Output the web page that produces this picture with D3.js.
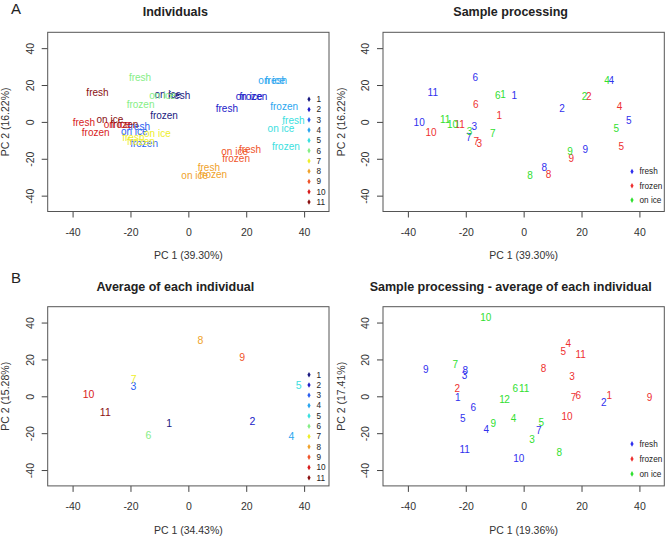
<!DOCTYPE html>
<html>
<head>
<meta charset="utf-8">
<script src="https://cdn.jsdelivr.net/npm/d3@7"></script>
<style>
  html, body { margin: 0; padding: 0; background: #fff; }
  svg { display: block; font-family: 'Liberation Sans', Arial, sans-serif; }
</style>
</head>
<body>
<svg id="chart" width="666" height="536"></svg>
<script>
const individuals = ['1', '2', '3', '4', '5', '6', '7', '8', '9', '10', '11'];
const processing = ['fresh', 'frozen', 'on ice'];
const axisTicks = [-40, -20, 0, 20, 40];

// A: PCA of every sample (individual 1..11 in order)
const freshPc1 = [-3.2, 13.3, -17.1, 30.3, 36.3, -16.7, -19.0, 7.1, 21.3, -36.1, -31.4];
const freshPc2 = [14.5, 7.5, -2.4, 22.7, 0.5, 24.3, -8.2, -24.8, -14.7, -0.3, 16.2];
const frozenPc1 = [-8.4, 22.5, -15.3, 33.1, 33.7, -16.5, -16.4, 8.6, 16.5, -32.0, -22.1];
const frozenPc2 = [3.5, 14.0, -11.8, 8.4, -13.3, 9.3, -10.9, -28.3, -19.6, -5.5, -1.5];
const onIcePc1 = [-7.1, 21.0, -18.7, 28.8, 32.0, -8.9, -10.7, 2.2, 16.0, -24.6, -27.1];
const onIcePc2 = [14.9, 14.0, -5.1, 22.5, -3.5, 14.5, -6.4, -29.0, -16.0, -1.5, 1.2];

// B (left): average of each individual
const averagePc1 = [-6.6, 22.1, -19.0, 35.6, 38.1, -13.8, -18.9, 4.2, 18.6, -34.5, -28.7];
const averagePc2 = [-14.7, -13.8, 5.4, -21.5, 6.2, -21.4, 9.2, 30.2, 21.0, 1.3, -8.7];

// B (right): processing after removing each individual's average
const centredFreshPc1 = [-22.8, 27.7, -20.4, -12.9, -21.0, -17.4, 5.2, -20.2, -33.8, -1.7, -20.4];
const centredFreshPc2 = [-0.7, -3.4, 11.4, -17.9, -11.8, -6.2, -18.3, 14.1, 14.3, -33.7, -29.1];
const centredFrozenPc1 = [29.6, -22.9, 16.7, 15.4, 13.7, 18.9, 17.2, 6.9, 43.5, 15.0, 19.7];
const centredFrozenPc2 = [0.2, 4.2, 10.5, 28.8, 24.3, 0.2, -0.7, 15.2, -0.7, -10.7, 22.8];
const centredOnIcePc1 = [-7.5, -5.7, 2.9, -3.5, 6.1, -2.9, -23.6, 12.3, -10.5, -13.1, 0.2];
const centredOnIcePc2 = [-1.8, -1.8, -23.3, -12.3, -14.1, 4.3, 17.4, -30.6, -15.0, 42.7, 4.3];

(function () {
  const IND_COLORS = ['#1a1a80', '#2020c8', '#2a5ff0', '#2aa6f0', '#3ae0e0', '#86ee86',
    '#eeee2a', '#f0a22a', '#f0552a', '#d81c1c', '#8a1010'];
  const PROC_COLORS = ['#3030ee', '#ee3030', '#30e030'];
  const TEXT = '#222';
  const AXIS = '#444';

  const LIMITS = [-48.6, 48.6];
  const PLOT_W = 281.3;
  const PLOT_H = 179.2;

  const svg = d3.select('#chart');

  function buildSamples(sets) {
    const out = [];
    sets.forEach((s, p) => {
      individuals.forEach((ind, i) => {
        out.push({ ind: i, proc: p, pc1: s[0][i], pc2: s[1][i] });
      });
    });
    return out;
  }

  const allSamples = buildSamples([
    [freshPc1, freshPc2], [frozenPc1, frozenPc2], [onIcePc1, onIcePc2],
  ]);
  const centredSamples = buildSamples([
    [centredFreshPc1, centredFreshPc2],
    [centredFrozenPc1, centredFrozenPc2],
    [centredOnIcePc1, centredOnIcePc2],
  ]);
  const averages = individuals.map((ind, i) => ({ ind: i, pc1: averagePc1[i], pc2: averagePc2[i] }));

  /** Marco, ejes y rótulos al estilo de plot() de R. */
  function drawFrame(cfg) {
    const x = d3.scaleLinear().domain(LIMITS).range([cfg.left, cfg.left + PLOT_W]);
    const y = d3.scaleLinear().domain(LIMITS).range([cfg.top + PLOT_H, cfg.top]);
    const g = svg.append('g');

    const ax = g.append('g')
      .attr('transform', `translate(0,${cfg.top + PLOT_H})`)
      .call(d3.axisBottom(x).tickValues(axisTicks).tickFormat(String)
        .tickSize(6).tickSizeOuter(0).tickPadding(11));
    ax.select('.domain').remove();
    ax.selectAll('line').attr('stroke', AXIS);
    ax.selectAll('text')
      .attr('font-size', 10.5).attr('fill', '#333')
      .attr('font-family', 'Liberation Sans, Arial, sans-serif');

    const ay = g.append('g')
      .attr('transform', `translate(${cfg.left},0)`)
      .call(d3.axisLeft(y).tickValues(axisTicks).tickFormat(String)
        .tickSize(6).tickSizeOuter(0));
    ay.select('.domain').remove();
    ay.selectAll('line').attr('stroke', AXIS);
    ay.selectAll('text')
      .attr('x', null).attr('y', null).attr('dy', '0.35em')
      .attr('text-anchor', 'middle')
      .attr('transform', 'translate(-17.7,0) rotate(-90)')
      .attr('font-size', 10.5).attr('fill', '#333')
      .attr('font-family', 'Liberation Sans, Arial, sans-serif');

    g.append('rect')
      .attr('x', cfg.left).attr('y', cfg.top)
      .attr('width', PLOT_W).attr('height', PLOT_H)
      .attr('fill', 'none').attr('stroke', '#555').attr('stroke-width', 1);

    g.append('text')
      .attr('x', cfg.left + PLOT_W / 2 - 13).attr('y', cfg.top - 20.5)
      .attr('dy', '0.35em').attr('text-anchor', 'middle')
      .attr('font-size', 12.5).attr('font-weight', 'bold').attr('fill', TEXT)
      .text(cfg.title);

    g.append('text')
      .attr('x', cfg.left + PLOT_W / 2).attr('y', cfg.top + PLOT_H + 44)
      .attr('dy', '0.35em').attr('text-anchor', 'middle')
      .attr('font-size', 10.5).attr('fill', '#333')
      .text(cfg.xLabel);

    g.append('text')
      .attr('transform', `translate(${cfg.left - 42},${cfg.top + PLOT_H / 2}) rotate(-90)`)
      .attr('dy', '0.35em').attr('text-anchor', 'middle')
      .attr('font-size', 10.5).attr('fill', '#333')
      .text(cfg.yLabel);

    return { x, y, g };
  }

  function drawLabels(frame, data, texto, color, size) {
    frame.g.append('g')
      .selectAll('text')
      .data(data)
      .join('text')
      .attr('x', (d) => frame.x(d.pc1))
      .attr('y', (d) => frame.y(d.pc2))
      .attr('dy', '0.35em')
      .attr('text-anchor', 'middle')
      .attr('font-size', size)
      .attr('fill', color)
      .text(texto);
  }

  function drawLegend(frame, names, colors, x0, y0, step) {
    const leg = frame.g.append('g');
    names.forEach((name, i) => {
      leg.append('path')
        .attr('d', d3.symbol(d3.symbolDiamond, 9)())
        .attr('transform', `translate(${x0},${y0 + i * step})`)
        .attr('fill', colors[i]);
      leg.append('text')
        .attr('x', x0 + 7.5).attr('y', y0 + i * step)
        .attr('dy', '0.35em')
        .attr('font-size', 8.2).attr('fill', TEXT)
        .text(name);
    });
  }

  const TOP = 32.3;
  const BOTTOM = 306.7;
  const LEFT = 47.7;
  const RIGHT = 383;

  // A: izquierda
  const a1 = drawFrame({ left: LEFT, top: TOP, title: 'Individuals',
    xLabel: 'PC 1 (39.30%)', yLabel: 'PC 2 (16.22%)' });
  drawLabels(a1, allSamples, (d) => processing[d.proc], (d) => IND_COLORS[d.ind], 10);
  drawLegend(a1, individuals, IND_COLORS, 309, TOP + 67, 10.27);

  // A: derecha
  const a2 = drawFrame({ left: RIGHT, top: TOP, title: 'Sample processing',
    xLabel: 'PC 1 (39.30%)', yLabel: 'PC 2 (16.22%)' });
  drawLabels(a2, allSamples, (d) => individuals[d.ind], (d) => PROC_COLORS[d.proc], 10);
  drawLegend(a2, processing, PROC_COLORS, 632, TOP + PLOT_H - 40, 14.3);

  // B: izquierda
  const b1 = drawFrame({ left: LEFT, top: BOTTOM, title: 'Average of each individual',
    xLabel: 'PC 1 (34.43%)', yLabel: 'PC 2 (15.28%)' });
  drawLabels(b1, averages, (d) => individuals[d.ind], (d) => IND_COLORS[d.ind], 10.5);
  drawLegend(b1, individuals, IND_COLORS, 309, BOTTOM + 68, 10.3);

  // B: derecha
  const b2 = drawFrame({ left: RIGHT, top: BOTTOM, title: 'Sample processing - average of each individual',
    xLabel: 'PC 1 (19.36%)', yLabel: 'PC 2 (17.41%)' });
  drawLabels(b2, centredSamples, (d) => individuals[d.ind], (d) => PROC_COLORS[d.proc], 10);
  drawLegend(b2, processing, PROC_COLORS, 632, BOTTOM + PLOT_H - 42, 15);

  svg.append('text').attr('x', 11).attr('y', 14)
    .attr('font-size', 15).attr('fill', TEXT).text('A');
  svg.append('text').attr('x', 11).attr('y', 283)
    .attr('font-size', 15).attr('fill', TEXT).text('B');
})();
</script>
</body>
</html>
